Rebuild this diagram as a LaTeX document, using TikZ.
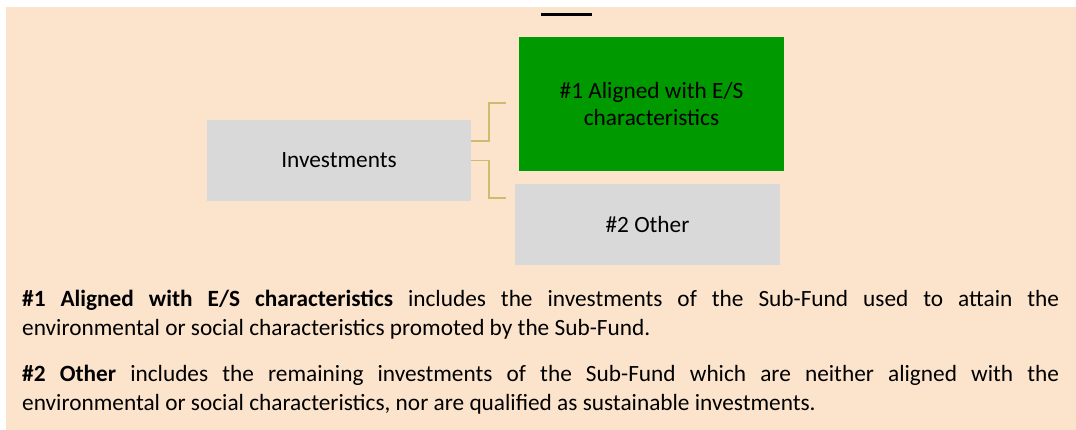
\documentclass[tikz,border=0pt]{standalone}
\usepackage{fontspec}
\setmainfont{Carlito}
\definecolor{peach}{HTML}{FCE4CC}
\definecolor{boxgrey}{HTML}{D9D9D9}
\definecolor{esgreen}{HTML}{009900}
\definecolor{linktan}{HTML}{CDBB70}
\begin{document}
\begin{tikzpicture}[x=1pt,y=-1pt,
  box/.style={inner sep=0pt, minimum width=265pt, minimum height=81pt, align=center, font=\fontsize{23.3}{27}\selectfont},
  link/.style={draw=linktan, line width=1.6pt},
  para/.style={anchor=north west, inner sep=0pt, text width=1037pt, align=justify, font=\fontsize{23.3}{28.4}\selectfont}]
\useasboundingbox (0,0) rectangle (1076,430);
\fill[peach] (6,7) rectangle (1076,430);
\draw[line width=3pt] (541,14.5) -- (592,14.5);
\node[box, fill=boxgrey, minimum width=264pt] (inv) at (339,160.5) {Investments};
\node[box, fill=esgreen, minimum height=134pt] (al) at (651.5,104) {\#1 Aligned with E/S\\characteristics};
\node[box, fill=boxgrey] (oth) at (647.5,224.5) {\#2 Other};
\coordinate (j1) at (489,103);
\coordinate (c1) at (506,103);
\coordinate (j2) at (489,198);
\coordinate (c2) at (506,198);
\draw[link] ([yshift=19.5pt]inv.east) -| (j1) -- (c1);
\draw[link] (inv.east) -| (j2) -- (c2);
\node[para] (p1) at (22,286.8) {\strut\textbf{\#1 Aligned with E/S characteristics} includes the investments of the Sub-Fund used to attain the\linebreak environmental or social characteristics promoted by the Sub-Fund.};
\node[para] (p2) at (22,361.8) {\strut\textbf{\#2 Other} includes the remaining investments of the Sub-Fund which are neither aligned with the\linebreak environmental or social characteristics, nor are qualified as sustainable investments.};
\end{tikzpicture}
\end{document}
